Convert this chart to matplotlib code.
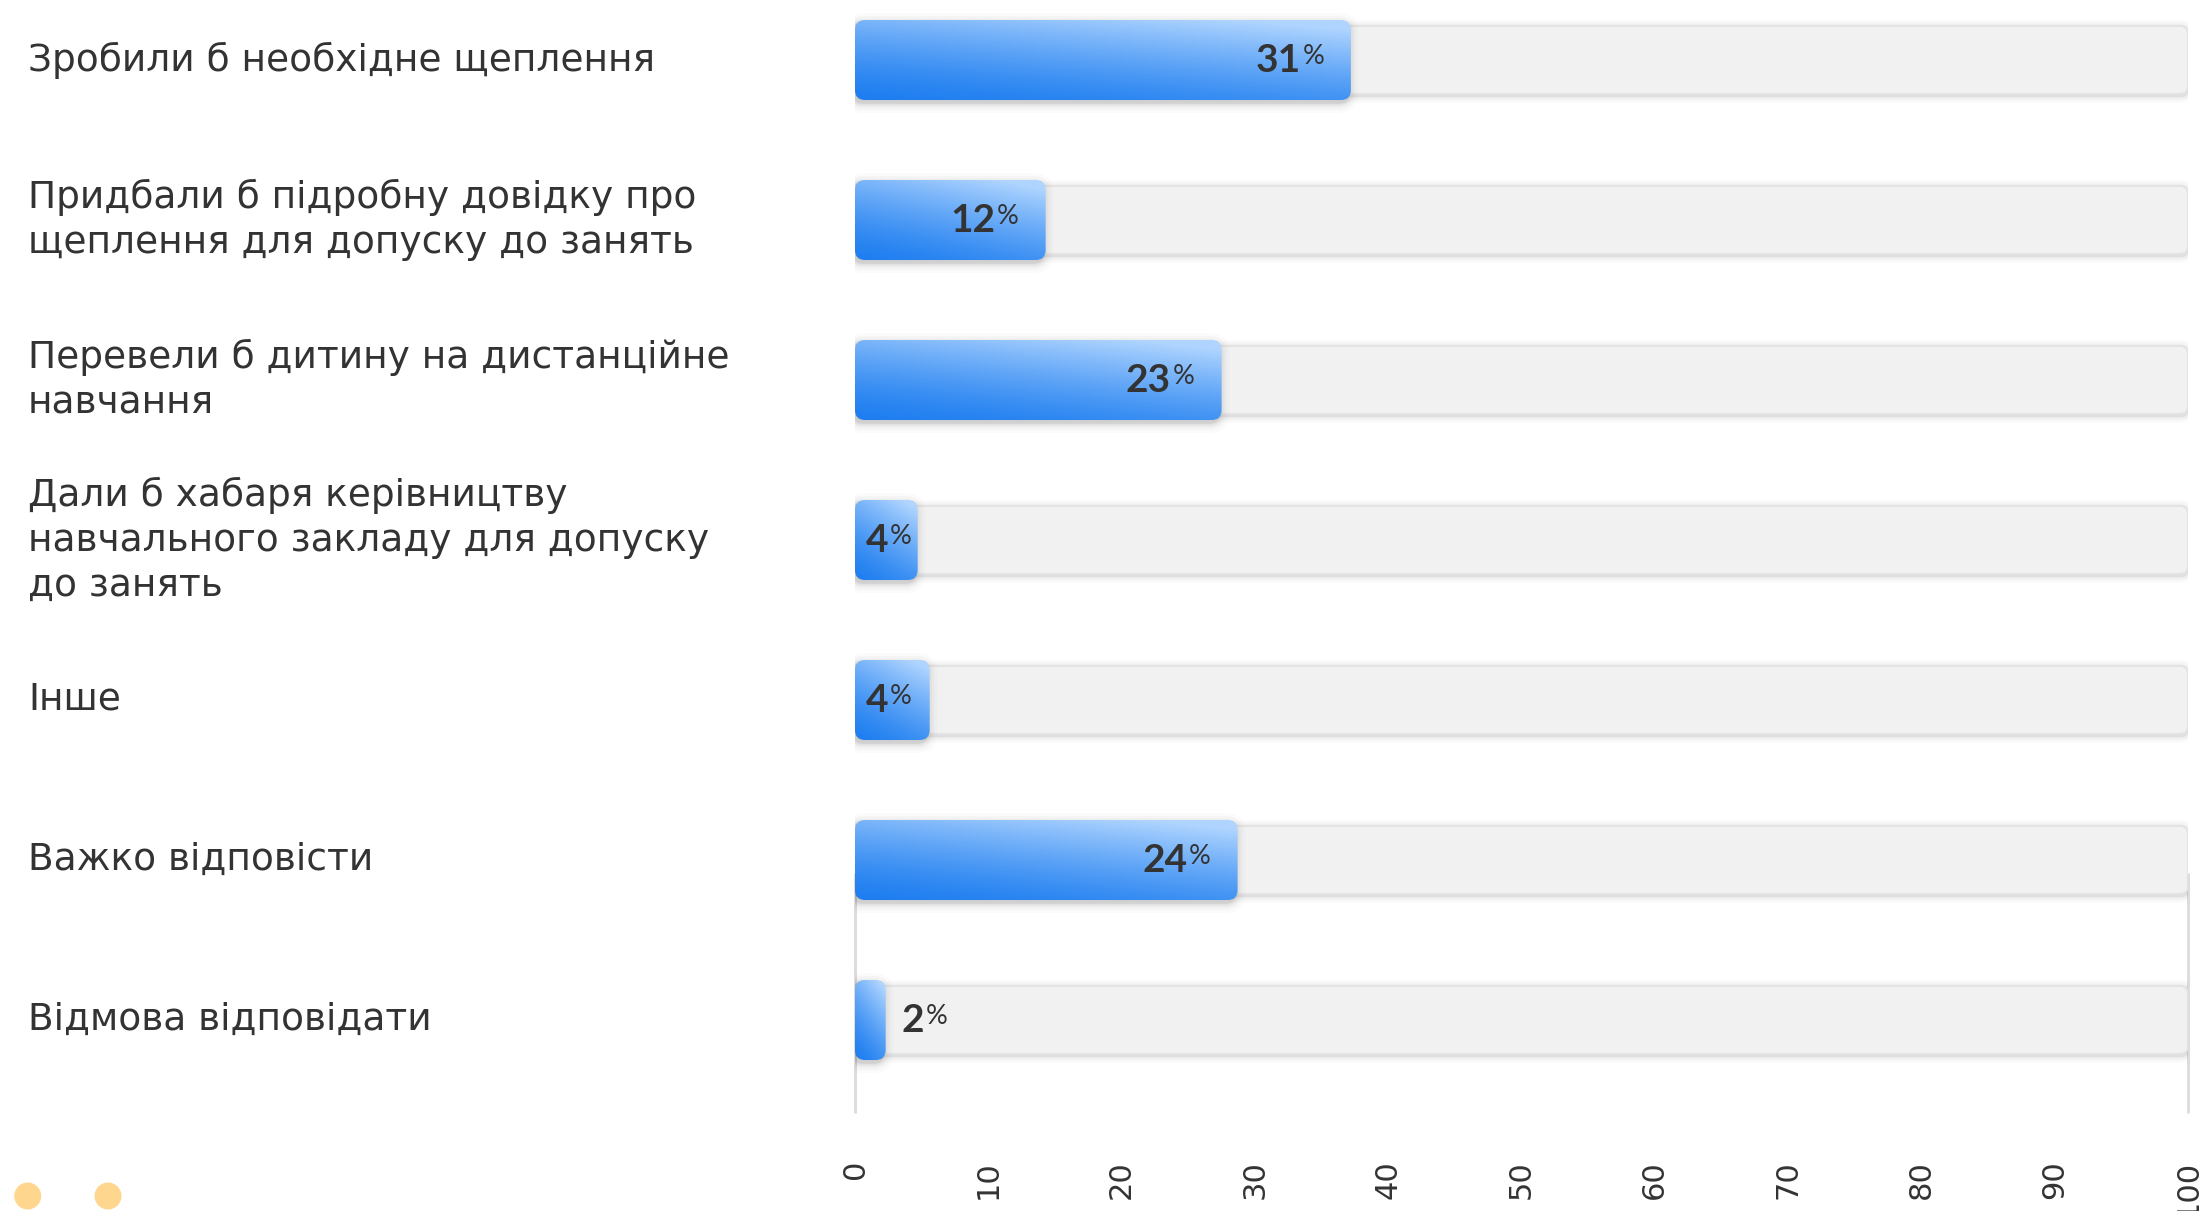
import numpy as np
import matplotlib
matplotlib.use('Agg')
import matplotlib.pyplot as plt
from matplotlib.patches import FancyBboxPatch, Ellipse
from matplotlib.transforms import blended_transform_factory, ScaledTranslation

# ---------------- data ----------------
categories = [
    "Зробили б необхідне щеплення",
    "Придбали б підробну довідку про\nщеплення для допуску до занять",
    "Перевели б дитину на дистанційне\nнавчання",
    "Дали б хабаря керівництву\nнавчального закладу для допуску\nдо занять",
    "Інше",
    "Важко відповісти",
    "Відмова відповідати",
]
value_labels = [31, 12, 23, 4, 4, 24, 2]          # printed percentages
bar_lengths = [37.2, 14.3, 27.5, 4.7, 5.6, 28.7, 2.3]  # bar ends
x_ticks = [0, 10, 20, 30, 40, 50, 60, 70, 80, 90, 100]

# ---------------- layout ----------------
W, H, DPI = 2208, 1211, 100
fig = plt.figure(figsize=(W / DPI, H / DPI), dpi=DPI)
fig.patch.set_facecolor('white')

X0_PX, X1_PX = 855, 2188
AX_BOTTOM_PX = 1113
ROW_PX, FIRST_PX = 160, 60
ax = fig.add_axes([X0_PX / W, 1 - AX_BOTTOM_PX / H, (X1_PX - X0_PX) / W, AX_BOTTOM_PX / H])
ax.set_xlim(0, 100)
ax.set_ylim((AX_BOTTOM_PX - FIRST_PX) / ROW_PX, -FIRST_PX / ROW_PX)
for s in ax.spines.values():
    s.set_visible(False)
ax.set_facecolor('none')

ux = (X1_PX - X0_PX) / 100.0   # px per x unit
uy = ROW_PX                    # px per y unit
ASPECT = ux / uy

TEXT_COLOR = '#333333'
LABEL_FONT = 'DejaVu Sans'
NUM_FONT = 'Lato'

def rbox(x, y, w, h, r_px, pad_px=0.0, **kw):
    return FancyBboxPatch((x, y), w, h,
                          boxstyle=f"round,pad={pad_px / ux},rounding_size={(r_px + pad_px) / ux}",
                          mutation_aspect=ASPECT, **kw)

# vertical guide lines (only lower part, as in reference)
y_line_top = (873 - FIRST_PX) / ROW_PX
y_line_bot = (AX_BOTTOM_PX - FIRST_PX) / ROW_PX
for xv in (0, 100):
    ax.plot([xv, xv], [y_line_top, y_line_bot], color='#dddddd', lw=3 * 72 / DPI,
            solid_capstyle='butt', zorder=0.5, clip_on=False)

dark = np.array([0.118, 0.494, 0.941])
light = np.array([0.690, 0.835, 1.000])

TRACK_H = 68 / uy
BAR_H = 80 / uy

for i, L in enumerate(bar_lengths):
    # track shadow
    for e, a in [(7, 0.018), (5, 0.025), (3, 0.035), (1.5, 0.05)]:
        ax.add_patch(rbox(0, i - TRACK_H / 2 + 1.5 / uy, 100, TRACK_H, 8, pad_px=e,
                          facecolor='black', edgecolor='none', alpha=a, zorder=1))
    ax.add_patch(rbox(0, i - TRACK_H / 2, 100, TRACK_H, 8,
                      facecolor='#f1f1f1', edgecolor='#e3e3e3', lw=2 * 72 / DPI, zorder=1.5))

    # bar shadow
    for e, a in [(10, 0.015), (7, 0.022), (4.5, 0.03), (2.5, 0.045), (1, 0.06)]:
        ax.add_patch(rbox(-2.5 / ux, i - BAR_H / 2 + 3 / uy, L, BAR_H, 10, pad_px=e,
                          facecolor='black', edgecolor='none', alpha=a, zorder=2))
    bar = rbox(0, i - BAR_H / 2, L, BAR_H, 10, facecolor='none', edgecolor='none', zorder=3)
    ax.add_patch(bar)
    nw = max(int(L * ux), 4)
    nh = 80
    xn = np.linspace(0, 1, nw)[None, :]
    yn = np.linspace(1, 0, nh)[:, None]   # 1 at top
    s = np.clip(0.72 * yn + 0.36 * xn, 0, 1)
    t = s ** 1.4
    img = dark[None, None, :] + (light - dark)[None, None, :] * t[:, :, None]
    im = ax.imshow(img, extent=(0, L, i + BAR_H / 2, i - BAR_H / 2), origin='upper',
                   aspect='auto', interpolation='bilinear', zorder=3.2)
    im.set_clip_path(bar)

ax.set_xlim(0, 100)
ax.set_ylim((AX_BOTTOM_PX - FIRST_PX) / ROW_PX, -FIRST_PX / ROW_PX)

# category labels
lab_tr = blended_transform_factory(fig.transFigure, ax.transData)
for i, c in enumerate(categories):
    ax.text(28 / W, i, c, transform=lab_tr, ha='left', va='center', fontsize=27,
            family=LABEL_FONT, color=TEXT_COLOR, linespacing=1.32, clip_on=False)

# x ticks
ax.set_yticks([])
ax.set_xticks(x_ticks)
ax.set_xticklabels([str(t) for t in x_ticks])
ax.tick_params(axis='x', length=0, pad=(1160 - AX_BOTTOM_PX) * 72 / DPI, labelrotation=90,
               labelsize=22, labelcolor=TEXT_COLOR)
for lbl in ax.get_xticklabels():
    lbl.set_family(LABEL_FONT)

# value labels
fig.canvas.draw()
renderer = fig.canvas.get_renderer()
inv = ax.transData.inverted()
num_off = ScaledTranslation(0, -12.5 / DPI, fig.dpi_scale_trans)
pct_off = ScaledTranslation(0, -3.7 / DPI, fig.dpi_scale_trans)
GAP_PX = 2
PCT_SIZE = 19.5
for i, (v, L) in enumerate(zip(value_labels, bar_lengths)):
    if L >= 10:
        pct = ax.text(L - 2.0, i, '%', ha='right', va='baseline', fontsize=PCT_SIZE,
                      family=NUM_FONT, color=TEXT_COLOR, transform=ax.transData + pct_off, zorder=5)
        ext = pct.get_window_extent(renderer)
        xd = inv.transform((ext.x0 - GAP_PX, 0))[0]
        ax.text(xd, i, str(v), ha='right', va='baseline', fontsize=28, fontweight='bold',
                family=NUM_FONT, color=TEXT_COLOR, transform=ax.transData + num_off, zorder=5)
    else:
        start = 0.8 if L >= 4 else L + 1.2
        num = ax.text(start, i, str(v), ha='left', va='baseline', fontsize=28, fontweight='bold',
                      family=NUM_FONT, color=TEXT_COLOR, transform=ax.transData + num_off, zorder=5)
        ext = num.get_window_extent(renderer)
        xd = inv.transform((ext.x1 + GAP_PX, 0))[0]
        ax.text(xd, i, '%', ha='left', va='baseline', fontsize=PCT_SIZE,
                family=NUM_FONT, color=TEXT_COLOR, transform=ax.transData + pct_off, zorder=5)

# decorative dots bottom-left
for cx in (27.7, 108):
    fig.add_artist(Ellipse((cx / W, 1 - 1196 / H), width=27 / W, height=27 / H,
                           transform=fig.transFigure, facecolor='#ffd68e', edgecolor='none'))

fig.savefig('out.png', dpi=DPI, facecolor='white')
